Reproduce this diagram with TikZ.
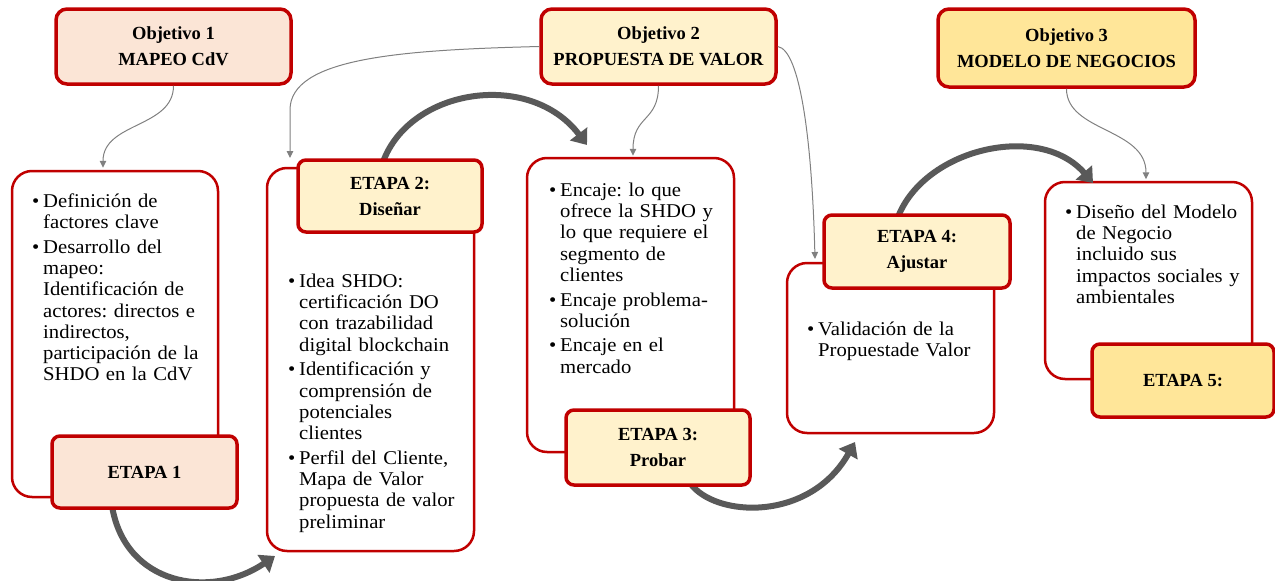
\documentclass[tikz,border=0pt]{standalone}
\usepackage{fontspec}
\setmainfont{Liberation Serif}
\newfontfamily\bodyfont[FakeStretch=1.06]{Liberation Serif}
\usetikzlibrary{arrows.meta}
\frenchspacing

\definecolor{boxred}{HTML}{C00000}
\definecolor{peach}{HTML}{FBE5D6}
\definecolor{cream}{HTML}{FFF2CC}
\definecolor{gold}{HTML}{FFE699}
\definecolor{flowgray}{HTML}{595959}
\definecolor{linkgray}{HTML}{808080}

% one bullet item with hanging indent; lines are broken with \newline
\newcommand\itm[1]{\par\noindent\hangindent=11pt\hangafter=1\makebox[11pt][l]{\textbullet}#1}

\tikzset{
  card/.style={draw=boxred, line width=2.5pt, rounded corners=20pt, fill=white, inner sep=0pt},
  goalbox/.style={draw=boxred, line width=3.5pt, rounded corners=11pt, inner sep=0pt,
    align=center, font=\bfseries\fontsize{18.5}{26}\selectfont},
  stagebox/.style={draw=boxred, line width=3.5pt, rounded corners=8pt, inner sep=0pt,
    align=center, font=\bfseries\fontsize{18.5}{26}\selectfont},
  bodytext/.style={inner sep=0pt, anchor=north west, text width=220pt,
    font=\bodyfont\fontsize{19.5}{21.3}\selectfont\frenchspacing},
  flow/.style={draw=flowgray, line width=6pt, -{Triangle[length=14pt,width=21pt]}},
  link/.style={draw=linkgray, line width=1pt, -{Triangle[length=7pt,width=6.5pt]}}
}

\begin{document}
\begin{tikzpicture}[x=1pt,y=-1pt]
\useasboundingbox (0,0) rectangle (1275,581);

% content cards
\node[card, minimum width=206pt, minimum height=326pt] (c1) at (115,334) {};
\node[card, minimum width=207pt, minimum height=383pt] (c2) at (370.5,359.5) {};
\node[card, minimum width=207pt, minimum height=294pt] (c3) at (630.5,305) {};
\node[card, minimum width=207pt, minimum height=170pt] (c4) at (890.5,348) {};
\node[card, minimum width=207pt, minimum height=197pt] (c5) at (1148.5,280.5) {};

% start points of the flow arrows, hidden under the stage boxes
\path
  coordinate (e1s) at (112,506)
  coordinate (e2s) at (383,162)
  coordinate (e3s) at (690,483)
  coordinate (e4s) at (898,217);

% flow arrows between stages
\draw[flow] (e1s) .. controls (125,585) and (210,600) .. (275,556);
\draw[flow] (e2s) .. controls (410,88) and (530,70) .. (587,145);
\draw[flow] (e3s) .. controls (715,518) and (810,522) .. (855,442);
\draw[flow] (e4s) .. controls (925,148) and (1040,122) .. (1093,183);

% stage boxes
\node[stagebox, fill=peach, minimum width=185pt, minimum height=72pt] (e1) at (144.5,472) {ETAPA 1};
\node[stagebox, fill=cream, minimum width=184pt, minimum height=72pt] (e2) at (390,196) {ETAPA 2:\\Diseñar};
\node[stagebox, fill=cream, minimum width=184pt, minimum height=75pt] (e3) at (658,447.5) {ETAPA 3:\\Probar};
\node[stagebox, fill=cream, minimum width=186pt, minimum height=73pt] (e4) at (917,251.5) {ETAPA 4:\\Ajustar};
\node[stagebox, fill=gold, minimum width=182pt, minimum height=73pt] (e5) at (1183,380.5) {ETAPA 5:};

% objectives
\node[goalbox, fill=peach, minimum width=235pt, minimum height=75pt] (o1) at (173.5,46.5) {Objetivo 1\\MAPEO CdV};
\node[goalbox, fill=cream, minimum width=235pt, minimum height=75pt] (o2) at (658.5,46.5) {Objetivo 2\\PROPUESTA DE VALOR};
\node[goalbox, fill=gold, minimum width=257pt, minimum height=78pt] (o3) at (1066.5,48) {Objetivo 3\\MODELO DE NEGOCIOS};

% links from objectives to the cards
\coordinate (c2tip) at (290,158);
\coordinate (c4tip) at (815,259);
\draw[link] (o1.south) .. controls (173.5,128) and (103,122) .. ([xshift=-12pt,yshift=2pt]c1.north);
\draw[link] (o2.west) .. controls (400,50) and (290,58) .. (290,110) -- (c2tip);
\draw[link] (o2.south) .. controls (658.5,122) and (633,115) .. ([xshift=2.5pt,yshift=1pt]c3.north);
\draw[link] (o2.east) .. controls (800,50) and (812,140) .. (c4tip);
\draw[link] (o3.south) .. controls (1066.5,132) and (1146,128) .. ([xshift=-2.5pt,yshift=1.5pt]c5.north);

% card texts
\node[bodytext] (t1) at (32,182.6) {\setlength\parskip{3.2pt}%
  \itm{\strut Definición de\newline factores clave}
  \itm{Desarrollo del\newline mapeo:\newline Identificación de\newline actores: directos e\newline indirectos,\newline participación de la\newline SHDO en la CdV}\par};
\node[bodytext] (t2) at (288,262.6) {\setlength\parskip{3.2pt}%
  \itm{\strut Idea SHDO:\newline certificación DO\newline con trazabilidad\newline digital blockchain}
  \itm{Identificación y\newline comprensión de\newline potenciales\newline clientes}
  \itm{Perfil del Cliente,\newline Mapa de Valor\newline propuesta de valor\newline preliminar}\par};
\node[bodytext] (t3) at (549,171.6) {\setlength\parskip{3.2pt}%
  \itm{\strut Encaje: lo que\newline ofrece la SHDO y\newline lo que requiere el\newline segmento de\newline clientes}
  \itm{Encaje problema-\newline solución}
  \itm{Encaje en el\newline mercado}\par};
\node[bodytext] (t4) at (807,313.6) {%
  \itm{\strut Validación de la\newline Propuestade Valor}\par};
\node[bodytext, text width=200pt] (t5) at (1065,196.6) {%
  \itm{\strut Diseño del Modelo\newline de Negocio\newline incluido sus\newline impactos sociales y\newline ambientales}\par};
\end{tikzpicture}
\end{document}
